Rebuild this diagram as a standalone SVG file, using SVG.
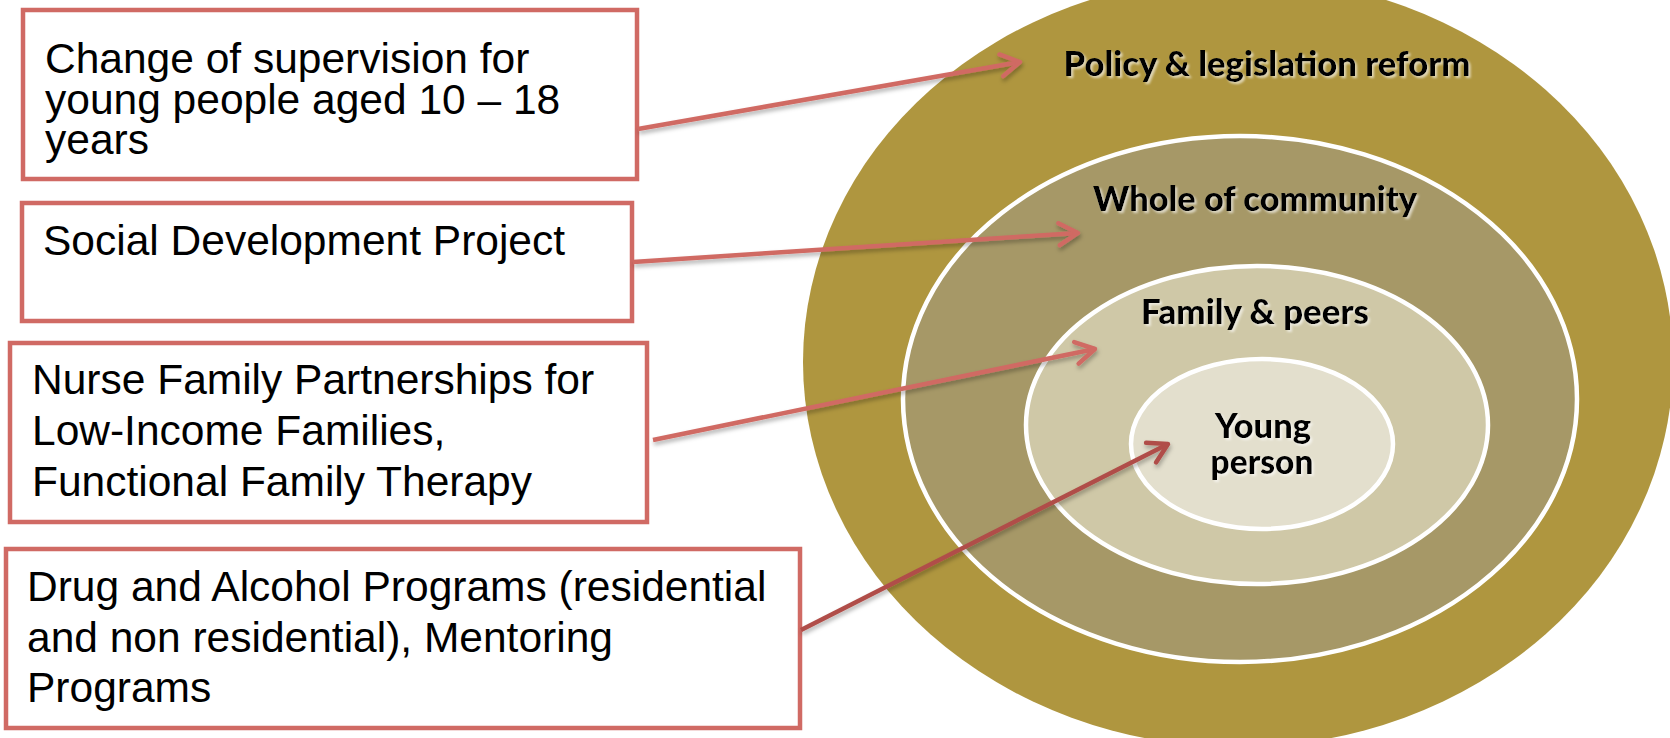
<svg xmlns="http://www.w3.org/2000/svg" width="1670" height="738" viewBox="0 0 1670 738">
<style>
.box{fill:#ffffff;stroke:#d06a64;stroke-width:4.5}
.bt{font-family:"Liberation Sans",Arial,sans-serif;font-size:42.5px;fill:#000000}
.ct{font-family:Lato,"Open Sans",sans-serif;font-weight:900;font-size:34px;fill:#000000;text-anchor:middle}
.ring{stroke:#ffffff;stroke-width:4.5}
.conn{fill:none;stroke-width:4.5}
</style>
<defs>
<filter id="tglow" x="-10%" y="-30%" width="120%" height="160%">
<feDropShadow dx="2" dy="2" stdDeviation="1.2" flood-color="#ffffff" flood-opacity="0.6"/>
</filter>
<filter id="ashadow" x="-10%" y="-20%" width="120%" height="140%">
<feDropShadow dx="1" dy="3" stdDeviation="2" flood-color="#000000" flood-opacity="0.3"/>
</filter>
<marker id="ah1" viewBox="-26 -15 30 30" markerWidth="30" markerHeight="30" refX="0" refY="0" orient="auto" markerUnits="userSpaceOnUse">
<path d="M-19,-11 L0,0 L-19,11" fill="none" stroke="#d06a64" stroke-width="4.5" stroke-linecap="round" stroke-linejoin="round"/>
</marker>
<marker id="ah2" viewBox="-26 -15 30 30" markerWidth="30" markerHeight="30" refX="0" refY="0" orient="auto" markerUnits="userSpaceOnUse">
<path d="M-19,-11 L0,0 L-19,11" fill="none" stroke="#b04e48" stroke-width="4.5" stroke-linecap="round" stroke-linejoin="round"/>
</marker>
</defs>
<rect x="0" y="0" width="1670" height="738" fill="#ffffff"/>

<g id="policy">
<ellipse cx="1238" cy="362" rx="435" ry="385" fill="#af963f"/>
<text class="ct" x="1267" y="76" textLength="407" lengthAdjust="spacingAndGlyphs" filter="url(#tglow)">Policy &amp; legislation reform</text>
</g>
<g id="community">
<ellipse class="ring" cx="1240" cy="399" rx="337" ry="263" fill="#a69867"/>
<text class="ct" x="1255" y="211" textLength="324" lengthAdjust="spacingAndGlyphs" filter="url(#tglow)">Whole of community</text>
</g>
<g id="family">
<ellipse class="ring" cx="1257" cy="425" rx="231" ry="159" fill="#cfc8a7"/>
<text class="ct" x="1255" y="324" textLength="228" lengthAdjust="spacingAndGlyphs" filter="url(#tglow)">Family &amp; peers</text>
</g>
<g id="young">
<ellipse class="ring" cx="1262" cy="444" rx="131" ry="85" fill="#e3dfcd"/>
<text class="ct" x="1263" y="438" textLength="96" lengthAdjust="spacingAndGlyphs" filter="url(#tglow)">Young</text>
<text class="ct" x="1262" y="474" textLength="103" lengthAdjust="spacingAndGlyphs" filter="url(#tglow)">person</text>
</g>

<g id="box1">
<rect class="box" x="23" y="10" width="614" height="169"/>
<text class="bt" x="45" y="73">Change of supervision for</text>
<text class="bt" x="45" y="114">young people aged 10 – 18</text>
<text class="bt" x="45" y="154">years</text>
</g>
<g id="box2">
<rect class="box" x="22" y="203" width="610" height="118"/>
<text class="bt" x="43" y="255">Social Development Project</text>
</g>
<g id="box3">
<rect class="box" x="10" y="343" width="637" height="179"/>
<text class="bt" x="32" y="394">Nurse Family Partnerships for</text>
<text class="bt" x="32" y="445">Low-Income Families,</text>
<text class="bt" x="32" y="496">Functional Family Therapy</text>
</g>
<g id="box4">
<rect class="box" x="6" y="549" width="794" height="179"/>
<text class="bt" x="27" y="601">Drug and Alcohol Programs (residential</text>
<text class="bt" x="27" y="652">and non residential), Mentoring</text>
<text class="bt" x="27" y="702">Programs</text>
</g>

<g id="connectors" filter="url(#ashadow)">
<path class="conn" d="M638,129 L1020,62" stroke="#d06a64" marker-end="url(#ah1)"/>
<path class="conn" d="M633,262 L1078,233" stroke="#d06a64" marker-end="url(#ah1)"/>
<path class="conn" d="M653,440 L1095,349" stroke="#d06a64" marker-end="url(#ah1)"/>
<path class="conn" d="M801,630 L1168,444" stroke="#b04e48" marker-end="url(#ah2)"/>
</g>
</svg>
